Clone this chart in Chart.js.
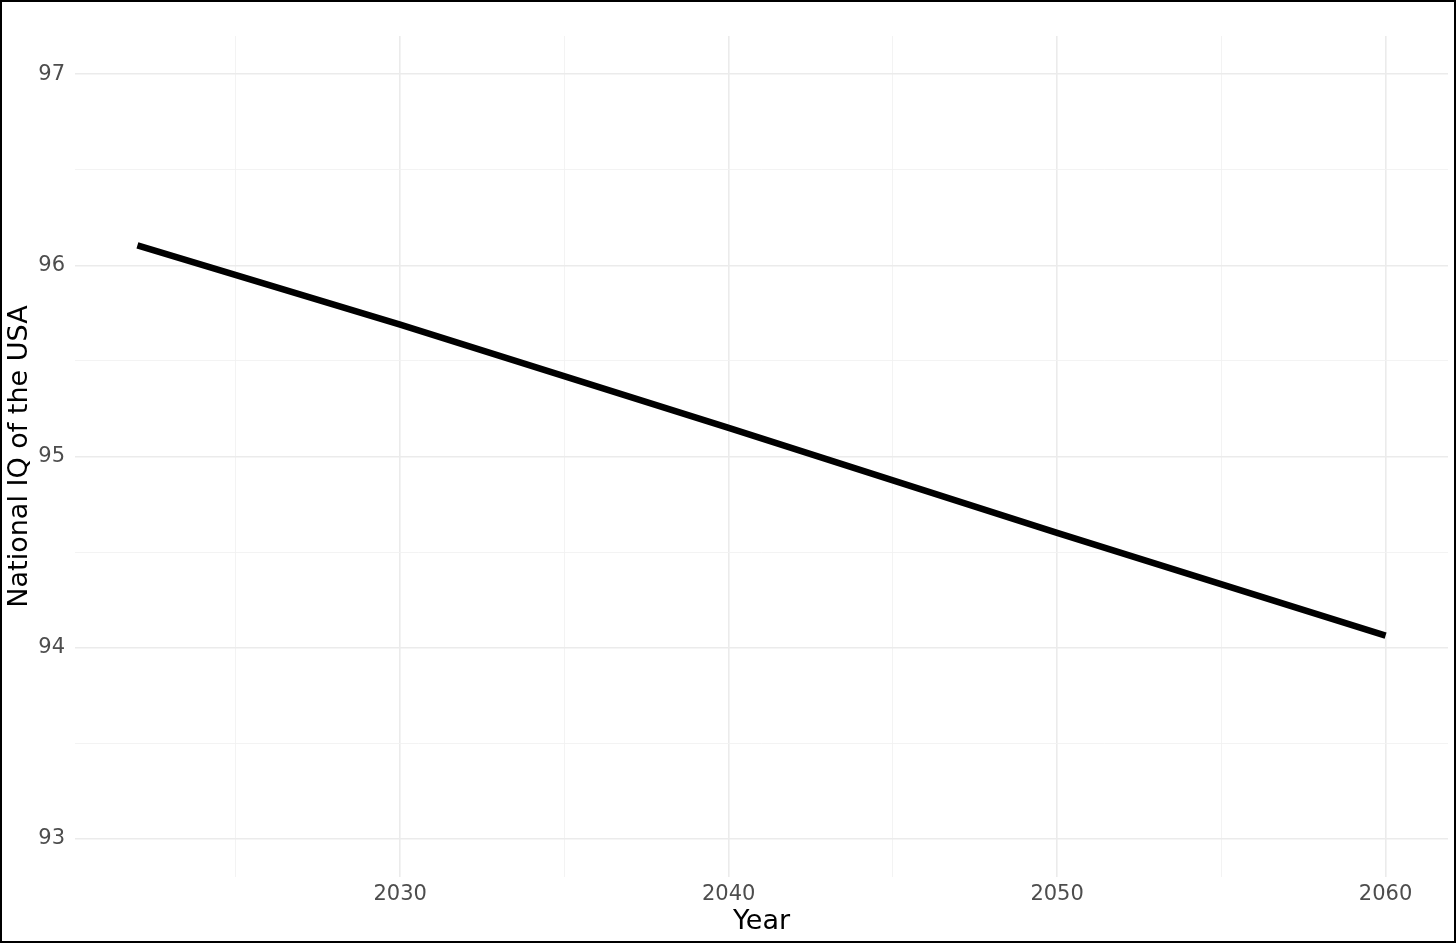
<!DOCTYPE html>
<html>
<head>
<meta charset="utf-8">
<script src="https://cdn.jsdelivr.net/npm/chart.js@4"></script>
<style>
  html, body { margin: 0; padding: 0; background: #fff; }
  canvas { display: block; }
</style>
</head>
<body>
<canvas id="myChart" width="1456" height="943"></canvas>
<script>
// DATA
const years = [2022, 2030, 2040, 2050, 2060];
const iqValues = [96.105, 95.69, 95.15, 94.6, 94.063];
const xTicks = [2025, 2030, 2035, 2040, 2045, 2050, 2055, 2060];
const yTicks = [93, 93.5, 94, 94.5, 95, 95.5, 96, 96.5, 97];

// STYLE
const majorGrid = "#EBEBEB";
const minorGrid = "#F2F2F2";
const tickColor = "#4D4D4D";
Chart.defaults.font.family = "'DejaVu Sans', sans-serif";

// border round the whole picture
const frame = {
  id: "frame",
  afterDraw(chart) {
    const c = chart.ctx;
    c.save();
    c.strokeStyle = "#000";
    c.lineWidth = 2;
    c.strokeRect(1, 1, chart.width - 2, chart.height - 2);
    c.restore();
  },
};

const ctx = document.querySelector("#myChart");
new Chart(ctx, {
  type: "line",
  data: {
    datasets: [
      {
        data: years.map((year, i) => ({ x: year, y: iqValues[i] })),
        borderColor: "#000",
        borderWidth: 6.5,
        borderCapStyle: "butt",
        pointRadius: 0,
        tension: 0,
      },
    ],
  },
  options: {
    responsive: false,
    animation: false,
    layout: { padding: { top: 36, right: 8, left: 0, bottom: 0 } },
    plugins: { legend: { display: false }, tooltip: { enabled: false } },
    scales: {
      x: {
        type: "linear",
        min: 2020.1,
        max: 2061.9,
        afterBuildTicks: (axis) => {
          axis.ticks = xTicks.map((v) => ({ value: v }));
        },
        afterFit: (axis) => {
          axis.height = 66;
        },
        ticks: {
          autoSkip: false,
          maxRotation: 0,
          padding: 5,
          color: tickColor,
          font: { size: 21 },
          callback: (v) => (v % 10 === 0 ? String(v) : ""),
        },
        grid: {
          drawTicks: false,
          color: (c) => (c.tick && c.tick.value % 10 === 0 ? majorGrid : minorGrid),
          lineWidth: (c) => (c.tick && c.tick.value % 10 === 0 ? 1.6 : 0.9),
        },
        border: { display: false },
        title: {
          display: true,
          text: "Year",
          color: "#000",
          font: { size: 27 },
          padding: { top: 0, bottom: 5 },
        },
      },
      y: {
        min: 92.8,
        max: 97.2,
        afterBuildTicks: (axis) => {
          axis.ticks = yTicks.map((v) => ({ value: v }));
        },
        afterFit: (axis) => {
          axis.width = 75;
        },
        ticks: {
          autoSkip: false,
          padding: 10,
          color: tickColor,
          font: { size: 21 },
          callback: (v) => (Number.isInteger(v) ? String(v) : ""),
        },
        grid: {
          drawTicks: false,
          color: (c) => (c.tick && Number.isInteger(c.tick.value) ? majorGrid : minorGrid),
          lineWidth: (c) => (c.tick && Number.isInteger(c.tick.value) ? 1.6 : 0.9),
        },
        border: { display: false },
        title: {
          display: true,
          text: "National IQ of the USA",
          color: "#000",
          font: { size: 27 },
          padding: { top: 4, bottom: 0 },
        },
      },
    },
  },
  plugins: [frame],
});
</script>
</body>
</html>
